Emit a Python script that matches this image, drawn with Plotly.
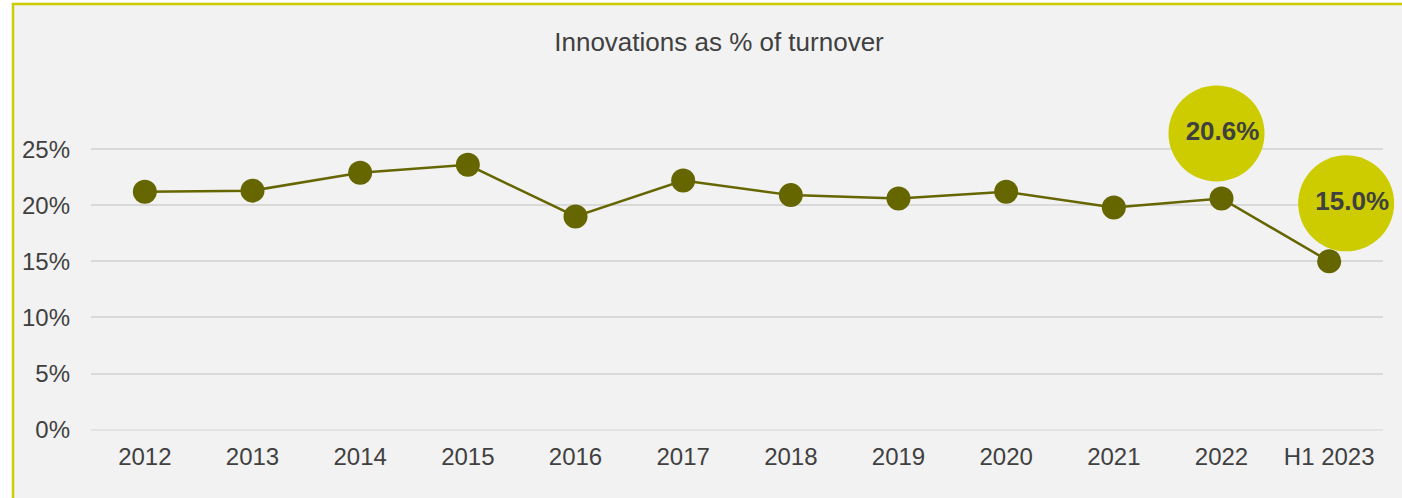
import plotly.graph_objects as go

categories = ["2012", "2013", "2014", "2015", "2016", "2017", "2018", "2019", "2020", "2021", "2022", "H1 2023"]
values = [21.2, 21.3, 22.9, 23.6, 19.0, 22.2, 20.9, 20.6, 21.2, 19.8, 20.6, 15.0]
y_tickvals = [0, 5, 10, 15, 20, 25]
y_ticktext = ["0%", "5%", "10%", "15%", "20%", "25%"]
labelled_idx = [10, 11]
title_text = "Innovations as % of turnover"

W, H = 1402, 498
L, R, T, B = 91, 19, 93, 68
plot_w = W - L - R
plot_h = H - T - B
y_range = [-0.03, 30]
x_range = [-0.5, len(categories) - 0.5]
px_per_x = plot_w / (x_range[1] - x_range[0])
px_per_y = plot_h / (y_range[1] - y_range[0])

# bubble offsets in pixels (dx, dy up)
bubble_offsets = {10: (-5, 65), 11: (17, 58)}
text_dx = 6

xs = list(range(len(categories)))

fig = go.Figure()
fig.add_trace(go.Scatter(
    x=xs, y=values, mode="lines+markers",
    line=dict(color="#666600", width=2.5),
    marker=dict(size=24, color="#666600"),
    cliponaxis=False, hoverinfo="skip", showlegend=False,
))

bx = [xs[i] + bubble_offsets[i][0] / px_per_x for i in labelled_idx]
by = [values[i] + bubble_offsets[i][1] / px_per_y for i in labelled_idx]
bt = [f"<b>{values[i]:.1f}%</b>" for i in labelled_idx]
fig.add_trace(go.Scatter(
    x=bx, y=by, mode="markers",
    marker=dict(size=96, color="#cccc00"),
    cliponaxis=False, hoverinfo="skip", showlegend=False,
))
fig.add_trace(go.Scatter(
    x=[v + text_dx / px_per_x for v in bx], y=by, mode="text", text=bt,
    textposition="middle center",
    textfont=dict(family="Liberation Sans, Arial, sans-serif", size=26, color="#404040"),
    cliponaxis=False, hoverinfo="skip", showlegend=False,
))

# background box with yellow border
x0 = (13 - L) / plot_w
y1 = (H - B - 4) / plot_h
fig.add_shape(type="rect", xref="paper", yref="paper", x0=x0, x1=1.5, y0=-0.5, y1=y1,
              fillcolor="#f2f2f2", line=dict(color="#cccc00", width=2.5), layer="below")

fig.update_layout(
    width=W, height=H,
    margin=dict(l=L, r=R, t=T, b=B, pad=0),
    paper_bgcolor="white", plot_bgcolor="rgba(0,0,0,0)",
    font=dict(family="Liberation Sans, Arial, sans-serif", color="#404040", size=24),
    title=dict(text=title_text, x=719 / W, xref="container", xanchor="center",
               y=1 - 42 / H, yref="container", yanchor="middle",
               font=dict(size=26, color="#404040")),
    xaxis=dict(range=x_range, tickvals=xs, ticktext=categories, showgrid=False,
               zeroline=False, showline=False, ticks="", ticklabelstandoff=10,
               tickfont=dict(size=24, color="#404040")),
    yaxis=dict(range=y_range, tickvals=y_tickvals, ticktext=y_ticktext, showgrid=True,
               gridcolor="#d9d9d9", gridwidth=1.5, zeroline=True, zerolinecolor="#e3e3e3",
               zerolinewidth=2, showline=False,
               ticks="", ticklabelstandoff=20, tickfont=dict(size=24, color="#404040")),
)

fig.write_html("out.html")
